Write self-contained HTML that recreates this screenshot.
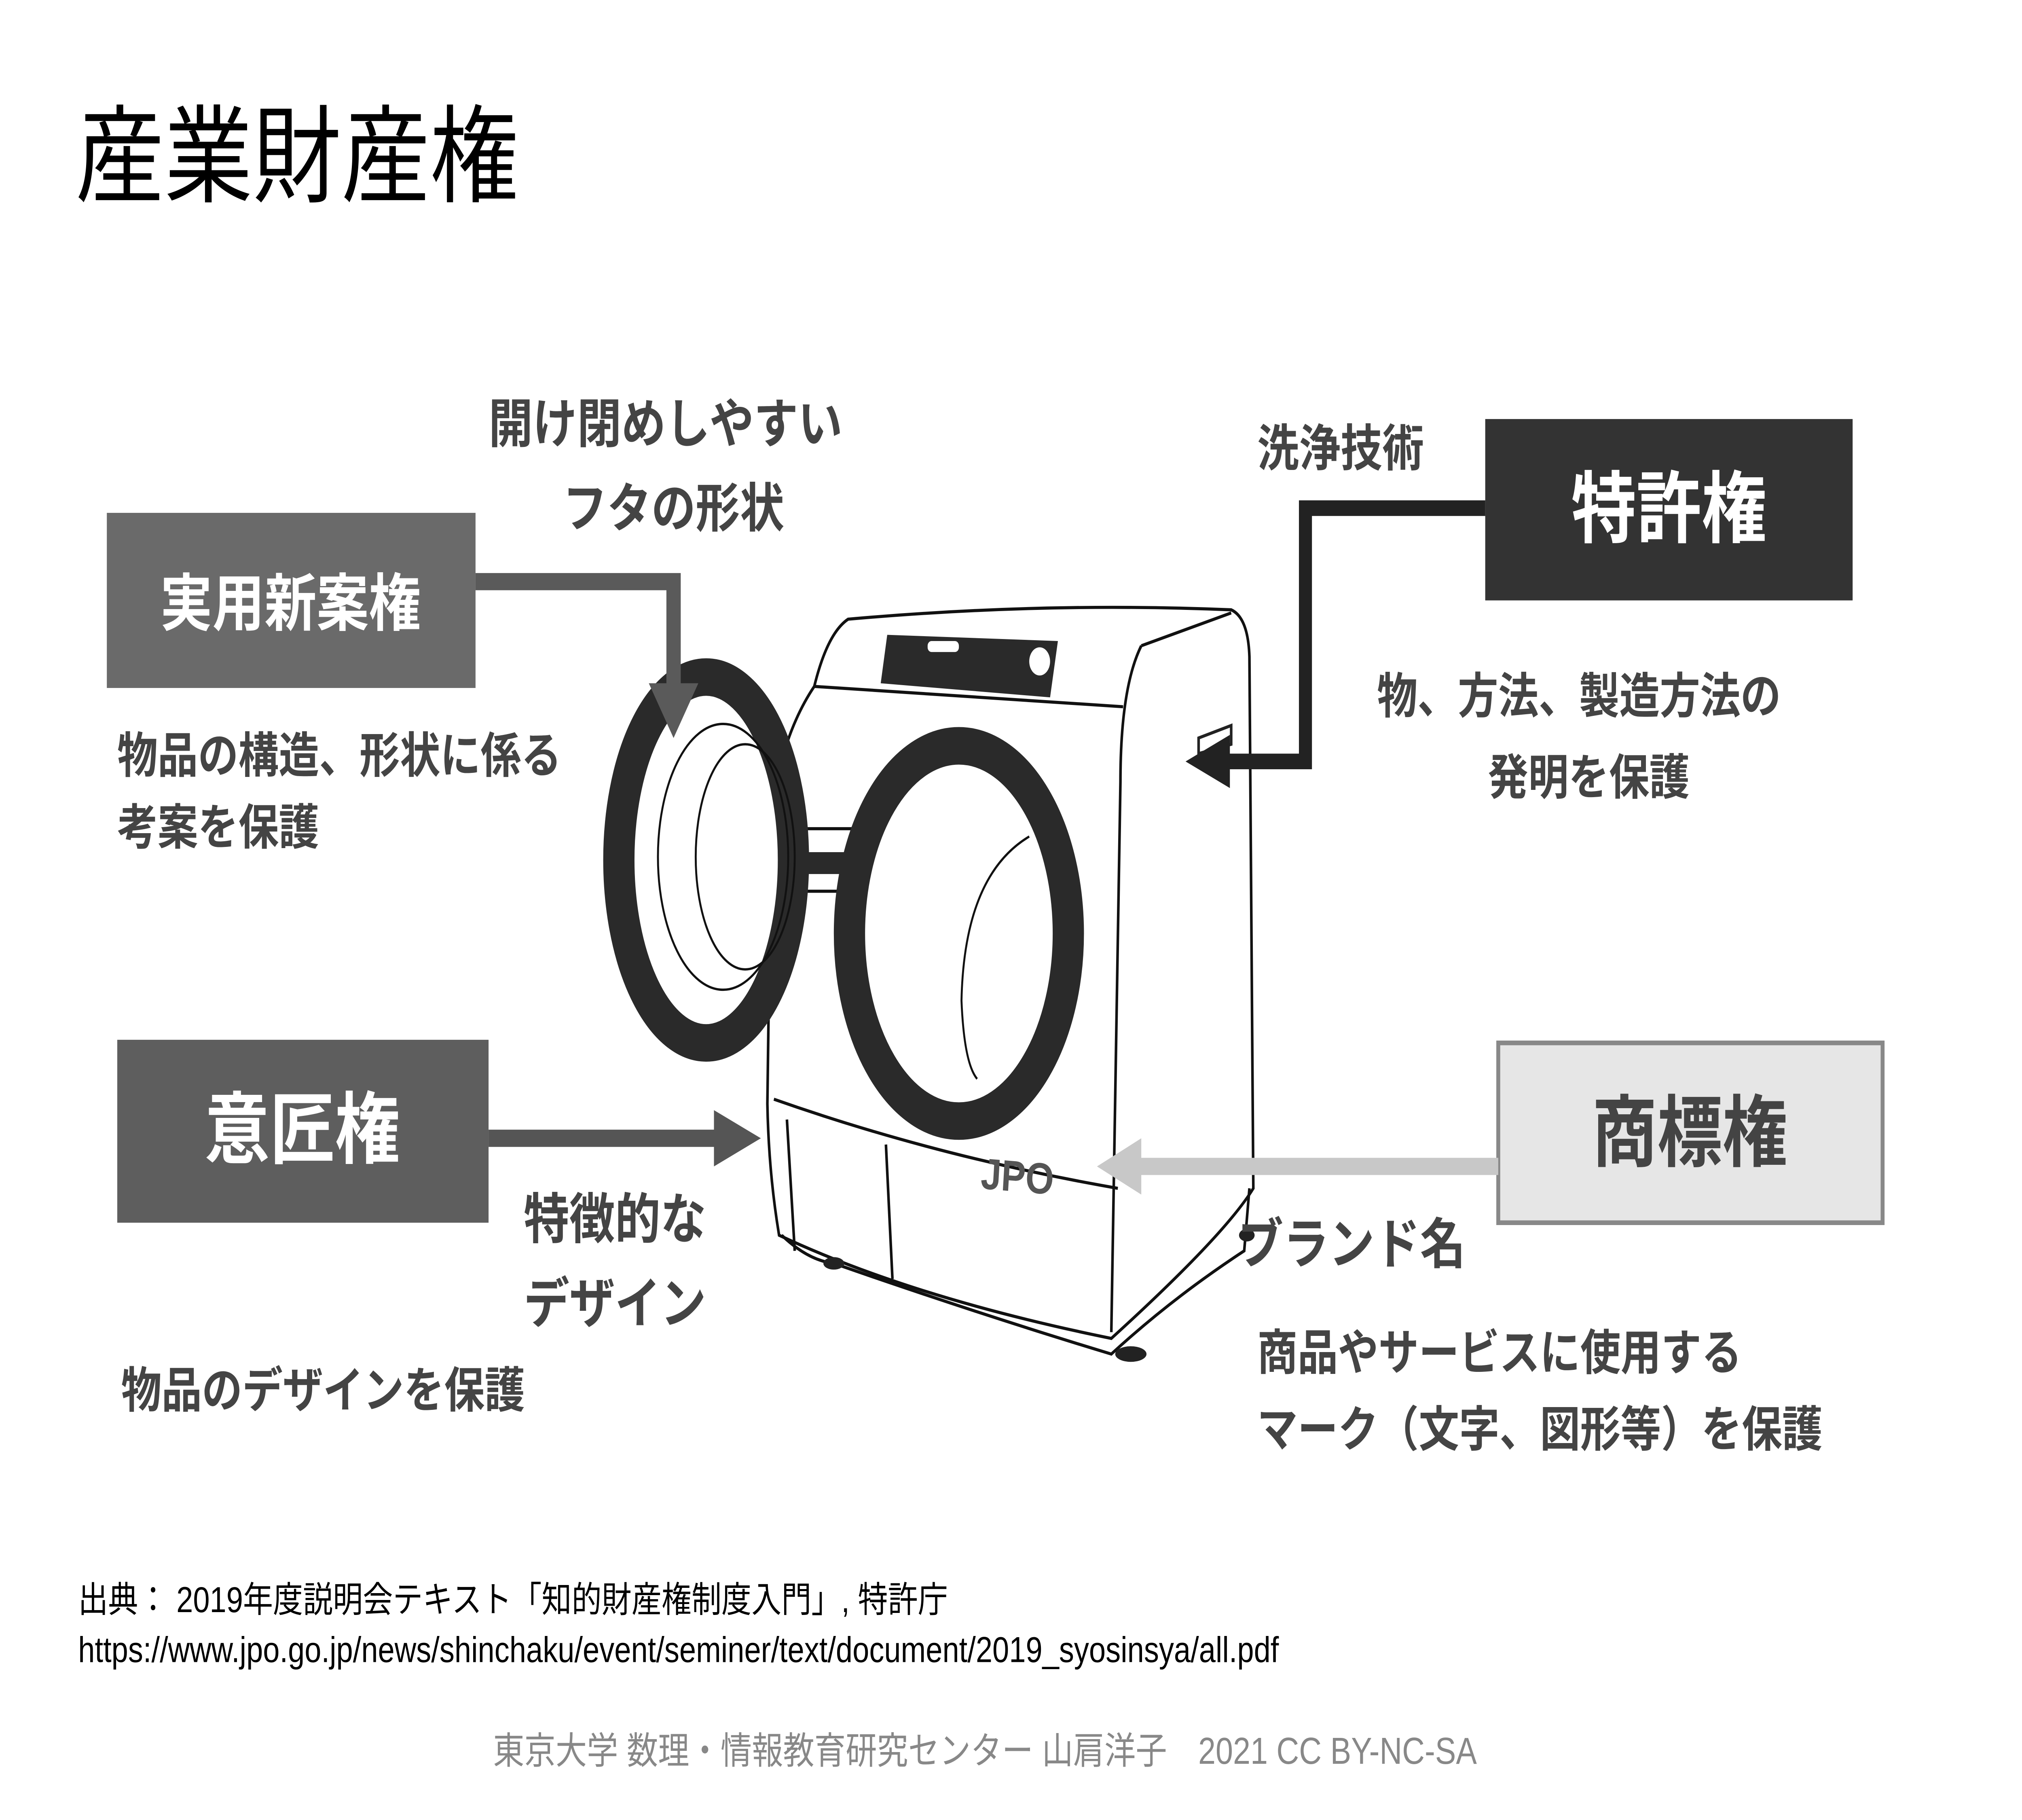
<!DOCTYPE html>
<html><head><meta charset="utf-8"><style>
html,body{margin:0;padding:0;background:#fff;width:100vw;height:100vh;overflow:hidden;}
svg{display:block;position:absolute;left:0;top:0;width:100vw;height:100vh;}
text{font-family:"Liberation Sans","Noto Sans CJK JP",sans-serif;}
.b{font-weight:bold;fill:#444;}
</style></head><body>
<svg viewBox="0 0 1552 1164" preserveAspectRatio="none" xmlns="http://www.w3.org/2000/svg">
<rect width="1552" height="1164" fill="#fff"/>
<text x="58" y="124" font-size="68" fill="#000">産業財産権</text>

<g stroke="#111" stroke-width="2" fill="#fff">
<path d="M651,396 Q800,385 945,390 Q958,395 959,420 L962,760 Q940,790 853,856 Q700,830 598,790 Q590,750 589,706 L592,520 Q600,470 625,439 Q635,405 651,396 Z"/>
<path d="M876,413 Q945,392 945,392 M876,413 Q860,440 860,500 L853,852" fill="none"/>
<path d="M625,439 L862,452" fill="none"/>
<path d="M594,703 Q720,740 858,760" fill="none"/>
<path d="M604,716 L610,800 M680,732 L685,818" fill="none"/>
<path d="M600,790 Q620,806 640,808 Q750,840 853,866 Q900,830 955,800 L959,760" fill="none"/>
</g>
<path d="M681,406 L812,410 L806,446 L676,437 Z" fill="#2a2a2a"/>
<rect x="712" y="410" width="24" height="7" rx="3" fill="#fff"/>
<ellipse cx="798" cy="423" rx="8" ry="9" fill="#fff"/>
<rect x="618" y="530" width="40" height="40" fill="#fff" stroke="#111" stroke-width="2"/>
<rect x="618" y="545" width="40" height="14" fill="#2a2a2a"/>
<ellipse cx="736" cy="597" rx="84" ry="120" fill="#fff" stroke="#2a2a2a" stroke-width="24"/>
<path d="M790,535 Q740,560 738,640 Q740,680 750,690" fill="none" stroke="#111" stroke-width="1.5"/>
<ellipse cx="542" cy="550" rx="67" ry="117" fill="#fff" stroke="#2a2a2a" stroke-width="24"/>
<ellipse cx="555" cy="548" rx="50" ry="85" fill="none" stroke="#111" stroke-width="1.5"/>
<ellipse cx="572" cy="548" rx="38" ry="72" fill="none" stroke="#111" stroke-width="1.5"/>
<ellipse cx="640" cy="808" rx="8" ry="4" fill="#222"/>
<ellipse cx="868" cy="866" rx="12" ry="5" fill="#222"/>
<ellipse cx="957" cy="790" rx="6" ry="4" fill="#222"/>
<path d="M920,472 L945,464 L945,476 L920,482 Z" fill="#fff" stroke="#222" stroke-width="2"/>
<text x="753" y="762" font-size="28" font-weight="bold" fill="#555" transform="rotate(4 780 752)">JPO</text>

<rect x="82" y="328" width="283" height="112" fill="#6a6a6a"/>
<text x="223" y="400" font-size="40" font-weight="bold" fill="#fff" text-anchor="middle">実用新案権</text>
<polyline points="365,372 517,372 517,440" fill="none" stroke="#5a5a5a" stroke-width="11"/>
<polygon points="498,437 536,437 517,472" fill="#5a5a5a"/>
<text x="375" y="283" font-size="34" class="b">開け閉めしやすい</text>
<text x="432" y="337" font-size="34" class="b">フタの形状</text>
<text x="90" y="494" font-size="31" class="b">物品の構造、形状に係る</text>
<text x="90" y="540" font-size="31" class="b">考案を保護</text>

<rect x="1140" y="268" width="282" height="116" fill="#333"/>
<text x="1281" y="343" font-size="50" font-weight="bold" fill="#fff" text-anchor="middle">特許権</text>
<polyline points="1140,325 1002,325 1002,487 940,487" fill="none" stroke="#222" stroke-width="10"/>
<polygon points="944,470 944,504 910,487" fill="#222"/>
<text x="965" y="298" font-size="32" class="b">洗浄技術</text>
<text x="1057" y="456" font-size="31" class="b">物、方法、製造方法の</text>
<text x="1142" y="508" font-size="31" class="b">発明を保護</text>

<rect x="90" y="665" width="285" height="117" fill="#5e5e5e"/>
<text x="232" y="740" font-size="50" font-weight="bold" fill="#fff" text-anchor="middle">意匠権</text>
<line x1="375" y1="728" x2="552" y2="728" stroke="#555" stroke-width="11"/>
<polygon points="548,710 584,728 548,746" fill="#555"/>
<text x="402" y="792" font-size="35" class="b">特徴的な</text>
<text x="402" y="846" font-size="35" class="b">デザイン</text>
<text x="93" y="900" font-size="31" class="b">物品のデザインを保護</text>

<rect x="1150" y="667" width="295" height="115" fill="#e6e6e6" stroke="#888" stroke-width="3"/>
<text x="1297" y="742" font-size="50" font-weight="bold" fill="#444" text-anchor="middle">商標権</text>
<line x1="1150" y1="746" x2="872" y2="746" stroke="#c8c8c8" stroke-width="11"/>
<polygon points="876,728 842,746 876,764" fill="#c8c8c8"/>
<text x="950" y="808" font-size="35" class="b">ブランド名</text>
<text x="965" y="876" font-size="31" class="b">商品やサービスに使用する</text>
<text x="965" y="925" font-size="31" class="b">マーク（文字、図形等）を保護</text>

<text x="60" y="1031" font-size="23" fill="#000">出典： 2019年度説明会テキスト「知的財産権制度入門」, 特許庁</text>
<text x="60" y="1063" font-size="23" fill="#000">https://www.jpo.go.jp/news/shinchaku/event/seminer/text/document/2019_syosinsya/all.pdf</text>
<text x="756" y="1128" font-size="24" fill="#888" text-anchor="middle">東京大学 数理・情報教育研究センター 山肩洋子　2021 CC BY-NC-SA</text>
</svg>
</body></html>
